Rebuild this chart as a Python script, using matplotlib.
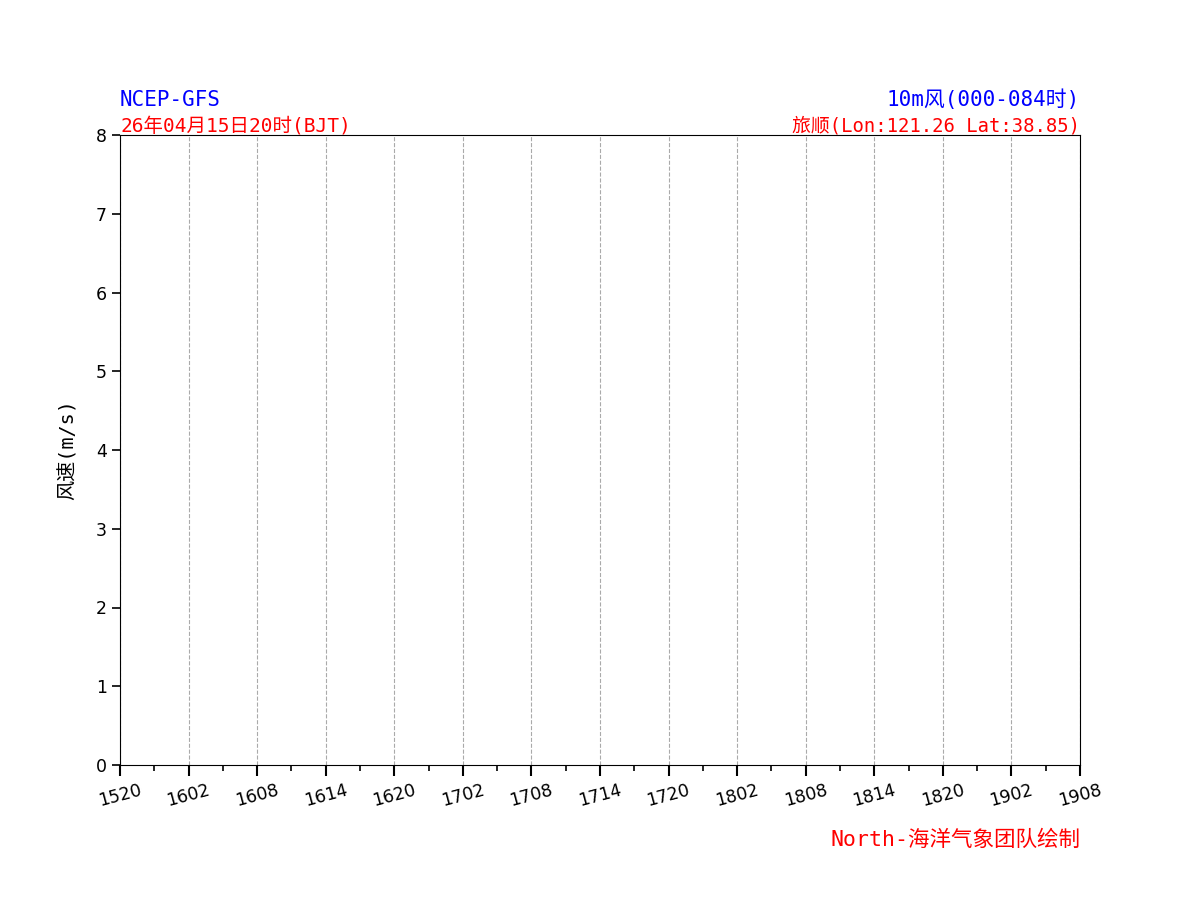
import numpy as np
import matplotlib
matplotlib.use("Agg")
import matplotlib.pyplot as plt

plt.rcParams['font.family'] = ['DejaVu Sans Mono', 'Noto Sans CJK SC']
plt.rcParams['axes.unicode_minus'] = False

# forecast hours (every 6h major, 3h minor) and their DDHH labels
major_hours = [0, 6, 12, 18, 24, 30, 36, 42, 48, 54, 60, 66, 72, 78, 84]
tick_labels = ["1520", "1602", "1608", "1614", "1620", "1702", "1708", "1714",
               "1720", "1802", "1808", "1814", "1820", "1902", "1908"]
minor_hours = list(range(0, 85, 3))
y_ticks = [0, 1, 2, 3, 4, 5, 6, 7, 8]
wind_speed = []  # no data in this forecast window

fig = plt.figure(figsize=(12, 9), dpi=100)
ax = fig.add_axes([0.1, 0.15, 0.8, 0.70])

if wind_speed:
    ax.plot(major_hours[:len(wind_speed)], wind_speed, "b-")

ax.set_xlim(0, 84)
ax.set_ylim(0, 8)
ax.set_xticks(major_hours)
ax.set_xticks(minor_hours, minor=True)
ax.set_xticklabels(tick_labels, rotation=15, fontsize=12.5)
ax.set_yticks(y_ticks)
ax.set_yticklabels([str(v) for v in y_ticks], fontsize=12.5)
for lab in ax.get_xticklabels() + ax.get_yticklabels():
    lab.set_fontfamily("DejaVu Sans")
ax.tick_params(axis="x", which="major", length=8, width=1.5)
ax.tick_params(axis="x", which="minor", length=4, width=1.2)
ax.tick_params(axis="y", which="major", length=6, width=1.2)
ax.grid(True, axis="x", which="major", linestyle="--", color="#aaaaaa", lw=0.8)

ax.set_ylabel("风速(m/s)", fontsize=14.5, labelpad=13)

ax.text(0, 1.04, "NCEP-GFS", transform=ax.transAxes, color="blue", fontsize=15,
        ha="left", va="bottom")
ax.text(0, 1.0, "26年04月15日20时(BJT)", transform=ax.transAxes, color="red",
        fontsize=14, ha="left", va="bottom")
ax.text(1, 1.04, "10m风(000-084时)", transform=ax.transAxes, color="blue",
        fontsize=15, ha="right", va="bottom")
ax.text(1, 1.0, "旅顺(Lon:121.26 Lat:38.85)", transform=ax.transAxes,
        color="red", fontsize=13.6, ha="right", va="bottom")

fig.text(0.9, 0.067, "North-海洋气象团队绘制", color="red", fontsize=15.5,
         ha="right", va="center")

fig.savefig("out.png", dpi=100)
